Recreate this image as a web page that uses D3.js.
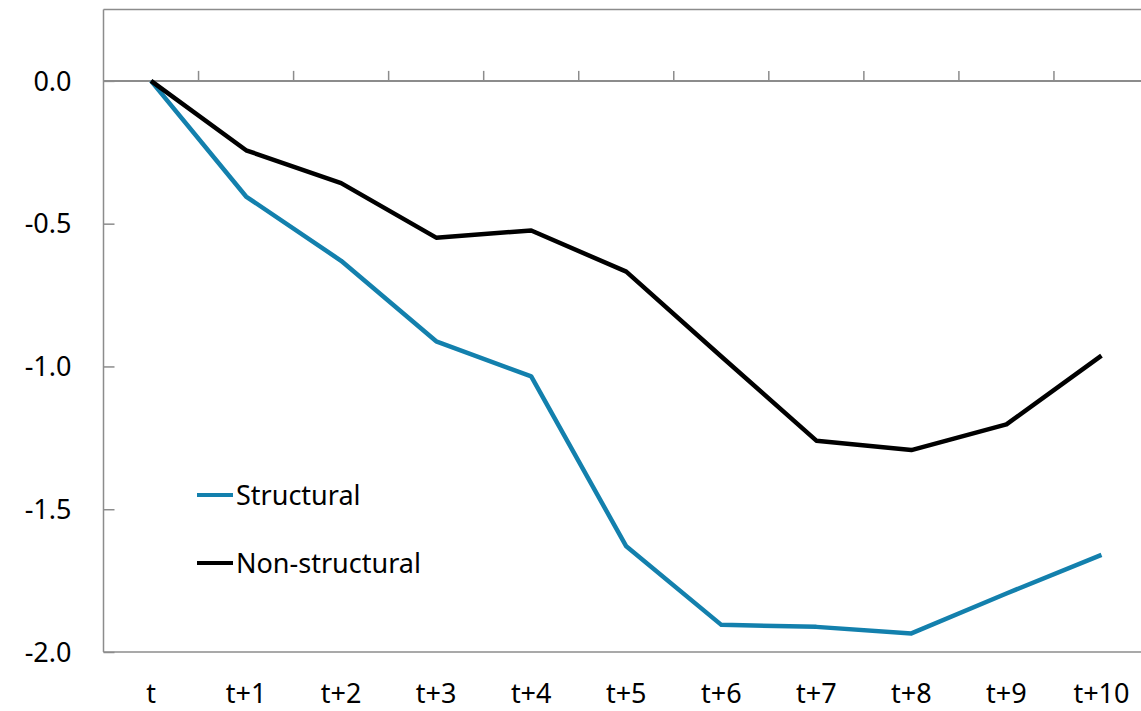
<!DOCTYPE html>
<html>
<head>
<meta charset="utf-8">
<script src="https://cdn.jsdelivr.net/npm/d3@7"></script>
<style>
  body { margin: 0; background: #fff; }
  svg { display: block; font-family: "Noto Sans", "Open Sans", sans-serif; }
</style>
</head>
<body>
<div id="chart"></div>
<script>
// Data
const periods = ["t", "t+1", "t+2", "t+3", "t+4", "t+5", "t+6", "t+7", "t+8", "t+9", "t+10"]
const structural = [0, -0.405, -0.63, -0.912, -1.035, -1.63, -1.905, -1.912, -1.935, -1.795, -1.66]
const nonStructural = [0, -0.243, -0.358, -0.549, -0.524, -0.668, -0.965, -1.26, -1.293, -1.203, -0.962]
const yTicks = [0, -0.5, -1.0, -1.5, -2.0]
const seriesNames = ["Structural", "Non-structural"]
const seriesColors = ["#1380ad", "#000000"]

const svgWidth = 1141, svgHeight = 711
const margin = {top: 9.5, right: -8, bottom: 59, left: 103.5}
const width = svgWidth - margin.left - margin.right
const height = svgHeight - margin.top - margin.bottom

const svg = d3.select("#chart")
  .append("svg")
  .attr("width", svgWidth)
  .attr("height", svgHeight)

const g = svg.append("g")
  .attr("transform", "translate(" + margin.left + "," + margin.top + ")")

// Scales
const x = d3.scaleBand()
  .domain(periods)
  .range([0, width])
const y = d3.scaleLinear()
  .domain([-2.0, 0.25])
  .range([height, 0])

const axisColor = "#8c8c8c"

// Frame: top and bottom lines
g.append("line")
  .attr("x1", 0).attr("x2", width)
  .attr("y1", 0).attr("y2", 0)
  .attr("stroke", axisColor).attr("stroke-width", 1.5)
g.append("line")
  .attr("x1", 0).attr("x2", width)
  .attr("y1", height).attr("y2", height)
  .attr("stroke", axisColor).attr("stroke-width", 1.5)

// Y axis (ticks pointing into the plot)
const yAxis = g.append("g")
  .call(d3.axisRight(y).tickValues(yTicks).tickSize(11).tickFormat(""))
yAxis.select(".domain").remove()
yAxis.selectAll("line").attr("stroke", axisColor).attr("stroke-width", 1.5)
g.append("line")
  .attr("x1", 0).attr("x2", 0)
  .attr("y1", 0).attr("y2", height)
  .attr("stroke", axisColor).attr("stroke-width", 1.5)

g.selectAll(".ylabel")
  .data(yTicks)
  .enter()
  .append("text")
    .attr("class", "ylabel")
    .attr("x", -32)
    .attr("y", d => y(d))
    .attr("dy", "0.36em")
    .attr("text-anchor", "end")
    .attr("font-size", 27)
    .attr("fill", "#000")
    .text(d => d3.format(".1f")(d).replace("−", "-"))

// Zero line with category boundary ticks pointing up
g.append("line")
  .attr("x1", 0).attr("x2", width)
  .attr("y1", y(0)).attr("y2", y(0))
  .attr("stroke", axisColor).attr("stroke-width", 2)
g.selectAll(".xtick")
  .data(periods.slice(1))
  .enter()
  .append("line")
    .attr("class", "xtick")
    .attr("x1", d => x(d)).attr("x2", d => x(d))
    .attr("y1", y(0) - 10).attr("y2", y(0))
    .attr("stroke", axisColor).attr("stroke-width", 1.5)

// X labels below the plot
g.selectAll(".xlabel")
  .data(periods)
  .enter()
  .append("text")
    .attr("class", "xlabel")
    .attr("x", d => x(d) + x.bandwidth() / 2)
    .attr("y", height + 51)
    .attr("text-anchor", "middle")
    .attr("font-size", 27)
    .attr("fill", "#000")
    .text(d => d)

// Lines
const line = d3.line()
  .x((d, i) => x(periods[i]) + x.bandwidth() / 2)
  .y(d => y(d))

;[structural, nonStructural].forEach((values, i) => {
  g.append("path")
    .datum(values)
    .attr("fill", "none")
    .attr("stroke", seriesColors[i])
    .attr("stroke-width", 4.5)
    .attr("stroke-linejoin", "round")
    .attr("d", line)
})

// Legend
const legend = svg.append("g")
seriesNames.forEach((name, i) => {
  const ly = 495 + i * 68
  legend.append("line")
    .attr("x1", 197).attr("x2", 233)
    .attr("y1", ly).attr("y2", ly)
    .attr("stroke", seriesColors[i])
    .attr("stroke-width", 4)
  legend.append("text")
    .attr("x", 236)
    .attr("y", ly)
    .attr("dy", "0.36em")
    .attr("font-size", 27)
    .attr("fill", "#000")
    .text(name)
})
</script>
</body>
</html>
